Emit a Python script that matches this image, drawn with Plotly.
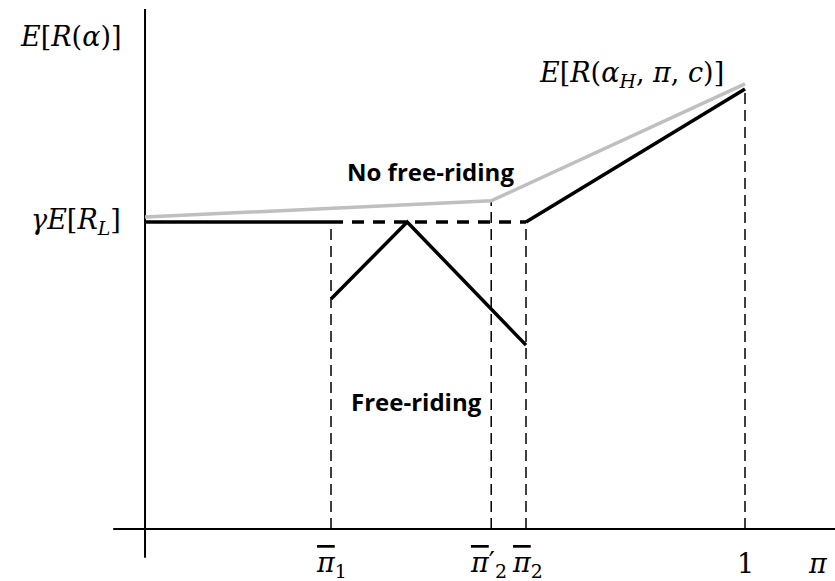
import plotly.graph_objects as go

# threshold beliefs on the pi axis (1 = certainty)
pi_1 = 0.31
pi_peak = 0.437
pi_2p = 0.577
pi_2 = 0.635
pi_top = 1.0

# expected returns, scaled so that gamma*E[R_L] = 1
low_ret = 1.0
gray_pi = [0.0, pi_2p, pi_top]
gray_ret = [1.016, 1.069, 1.45]
flat_pi = [0.0, pi_1]
flat_ret = [low_ret, low_ret]
dash_pi = [pi_1, pi_2]
dash_ret = [low_ret, low_ret]
free_pi = [pi_1, pi_peak, pi_2]
free_ret = [0.749, 1.0, 0.599]
high_pi = [pi_2, pi_top]
high_ret = [1.0, 1.433]

# guide lines down to the axis
guide_pi = [pi_1, pi_2p, pi_2, pi_top]
guide_top = [1.0, 1.069, 1.0, 1.433]

# axes extents
xaxis_span = [-0.053, 1.15]
yaxis_span = [-0.094, 1.694]

fig = go.Figure()

black = "#000000"
gray = "#bfbfbf"

# axes
fig.add_trace(go.Scatter(x=xaxis_span, y=[0, 0], mode="lines",
                         line=dict(color=black, width=2)))
fig.add_trace(go.Scatter(x=[0, 0], y=yaxis_span, mode="lines",
                         line=dict(color=black, width=2)))

# dashed guides
for p, t in zip(guide_pi, guide_top):
    fig.add_trace(go.Scatter(x=[p, p], y=[0, t], mode="lines",
                             line=dict(color=black, width=1.5, dash="11px,6px")))

fig.add_trace(go.Scatter(x=gray_pi, y=gray_ret, mode="lines",
                         line=dict(color=gray, width=3.5)))
fig.add_trace(go.Scatter(x=flat_pi, y=flat_ret, mode="lines",
                         line=dict(color=black, width=3.5)))
fig.add_trace(go.Scatter(x=dash_pi, y=dash_ret, mode="lines",
                         line=dict(color=black, width=3.5, dash="12px,9px")))
fig.add_trace(go.Scatter(x=free_pi, y=free_ret, mode="lines",
                         line=dict(color=black, width=3.5)))
fig.add_trace(go.Scatter(x=high_pi, y=high_ret, mode="lines",
                         line=dict(color=black, width=3.5)))

math_font = dict(family="DejaVu Serif", size=27, color=black)
bold_font = dict(family="Open Sans", size=24, color=black)

pibar = "<span style='text-decoration:overline'><i>π</i></span>"
labels = [
    (-0.037, 1.603, "<i>E</i>[<i>R</i>(<i>α</i>)]", "right"),
    (-0.037, 1.0, "<i>γE</i>[<i>R<sub>L</sub></i>]", "right"),
    (0.81, 1.479, "<i>E</i>[<i>R</i>(<i>α<sub>H</sub></i>, <i>π</i>, <i>c</i>)]", "center"),
    (pi_1, -0.117, pibar + "<sub>1</sub>", "center"),
    (0.572, -0.117, pibar + "′<sub>2</sub>", "center"),
    (0.638, -0.117, pibar + "<sub>2</sub>", "center"),
    (pi_top, -0.112, "1", "center"),
    (1.122, -0.112, "<i>π</i>", "center"),
]
for x, y, txt, anchor in labels:
    fig.add_annotation(x=x, y=y, text=txt, showarrow=False, xanchor=anchor,
                       yanchor="middle", font=math_font)

fig.add_annotation(x=0.475, y=1.163, text="<b>No free-riding</b>", showarrow=False,
                   font=bold_font)
fig.add_annotation(x=0.453, y=0.414, text="<b>Free-riding</b>", showarrow=False,
                   font=bold_font)

fig.update_layout(
    width=835, height=581,
    margin=dict(l=0, r=0, t=0, b=0),
    plot_bgcolor="white", paper_bgcolor="white",
    showlegend=False,
    xaxis=dict(range=[-0.2417, 1.15], visible=False),
    yaxis=dict(range=[-0.1694, 1.7231], visible=False),
)

fig.write_html("out.html", config={"displayModeBar": False},
               post_script="document.body.style.margin='0';")
